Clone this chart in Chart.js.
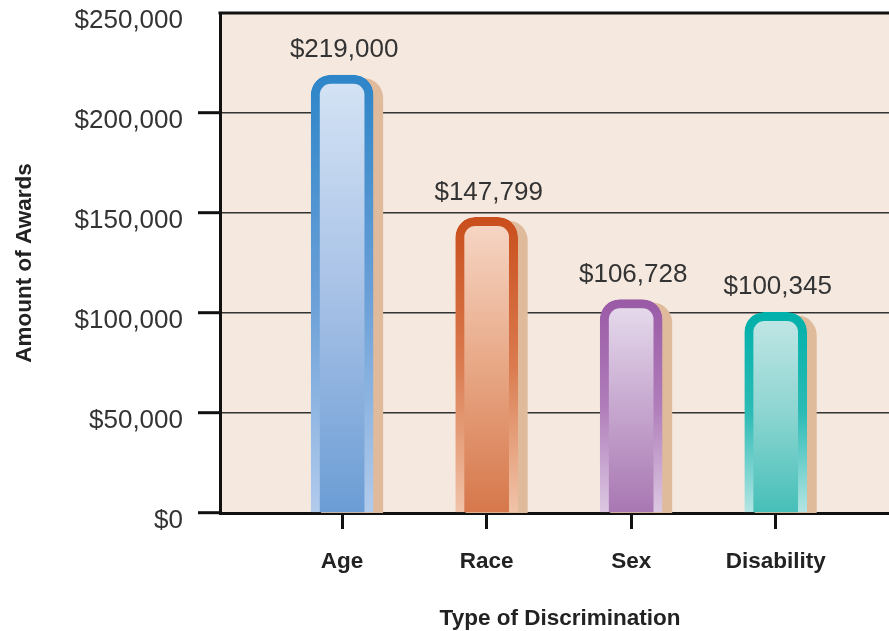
<!DOCTYPE html>
<html>
<head>
<meta charset="utf-8">
<script src="https://cdn.jsdelivr.net/npm/chart.js@4.4.1/dist/chart.umd.min.js"></script>
<style>
  html, body { margin: 0; padding: 0; background: #fff; overflow: hidden; }
  canvas { display: block; }
</style>
</head>
<body>
<canvas id="chart" width="900" height="631"></canvas>
<script>
// data
const categories = ['Age', 'Race', 'Sex', 'Disability'];
const awards = [219000, 147799, 106728, 100345];
const yTicks = [0, 50000, 100000, 150000, 200000, 250000];

// per-bar colours: [top, mid, bottom]
const innerColors = [
  ['#d5e4f5', '#a7c1e6', '#6b9dd5'],
  ['#f6d8c7', '#e8a886', '#d6774b'],
  ['#e7ddee', '#c7a8cf', '#a877b2'],
  ['#c3e7e6', '#8dd5d1', '#45bfb8']
];
const borderColors = [
  ['#2d85c8', '#6a9fd7', '#b2cbec'],
  ['#c94e1c', '#da7b4f', '#f1c4a9'],
  ['#9a5aa6', '#b07dba', '#dcc8e2'],
  ['#00b0aa', '#2cbbb5', '#b5e5e3']
];
const shadowColor = '#dfba9b';
const plotBg = '#f5e8df';

const valueFont = '"Liberation Sans", Arial, sans-serif';
const boldFont = '"Liberation Sans", Arial, sans-serif';

function barGradient(ctx, stops) {
  const chart = ctx.chart;
  if (!chart.chartArea || ctx.type !== 'data') return stops[1];
  const y = chart.scales.y;
  const top = y.getPixelForValue(ctx.raw.y);
  const bottom = y.getPixelForValue(0);
  const g = chart.ctx.createLinearGradient(0, top, 0, bottom);
  g.addColorStop(0, stops[0]);
  g.addColorStop(0.5, stops[1]);
  g.addColorStop(1, stops[2]);
  return g;
}

const plotDecor = {
  id: 'plotDecor',
  beforeDraw(chart) {
    const {ctx, chartArea: a} = chart;
    ctx.save();
    ctx.fillStyle = plotBg;
    ctx.fillRect(a.left, a.top, a.right - a.left, a.bottom - a.top);
    ctx.restore();
  },
  beforeDatasetsDraw(chart) {
    const {ctx, chartArea: a} = chart;
    ctx.save();
    ctx.beginPath();
    ctx.rect(a.left, a.top, a.right - a.left, a.bottom - a.top);
    ctx.clip();
    ctx.fillStyle = shadowColor;
    chart.getDatasetMeta(0).data.forEach(el => {
      const p = el.getProps(['x', 'y', 'base', 'width'], true);
      const left = p.x - p.width / 2 + 10;
      const top = p.y + 3;
      ctx.beginPath();
      ctx.roundRect(left, top, p.width, p.base - top + 2, [20, 20, 0, 0]);
      ctx.fill();
    });
    ctx.restore();
  },
  afterDatasetsDraw(chart) {
    const {ctx, chartArea: a} = chart;
    ctx.save();
    // top frame line
    ctx.strokeStyle = '#111';
    ctx.lineWidth = 3;
    ctx.beginPath();
    ctx.moveTo(a.left - 1.5, a.top);
    ctx.lineTo(a.right, a.top);
    ctx.stroke();
    // value labels
    ctx.fillStyle = '#333';
    ctx.font = '26px ' + valueFont;
    ctx.textAlign = 'center';
    ctx.textBaseline = 'middle';
    chart.getDatasetMeta(0).data.forEach((el, i) => {
      const p = el.getProps(['x', 'y'], true);
      ctx.fillText('$' + awards[i].toLocaleString('en-US'), p.x + 2, p.y - 25);
    });
    ctx.restore();
  }
};

new Chart(document.getElementById('chart'), {
  type: 'bar',
  data: {
    datasets: [{
      data: categories.map((c, i) => ({x: i, y: awards[i]})),
      barThickness: 62,
      borderWidth: 9,
      borderSkipped: 'bottom',
      borderRadius: {topLeft: 20, topRight: 20, bottomLeft: 0, bottomRight: 0},
      backgroundColor: ctx => barGradient(ctx, innerColors[ctx.dataIndex] || innerColors[0]),
      borderColor: ctx => barGradient(ctx, borderColors[ctx.dataIndex] || borderColors[0])
    }]
  },
  options: {
    responsive: false,
    animation: false,
    events: [],
    layout: {padding: {top: 13, right: 0, bottom: 0, left: 0}},
    plugins: {legend: {display: false}, tooltip: {enabled: false}},
    scales: {
      x: {
        type: 'linear',
        min: -0.845,
        max: 3.86,
        offset: false,
        z: 1,
        afterFit: s => { s.height = 118; s.paddingLeft = 0; s.paddingRight = 0; },
        afterBuildTicks: s => { s.ticks = categories.map((c, i) => ({value: i})); },
        border: {display: true, color: '#111', width: 3},
        grid: {display: true, offset: false, drawOnChartArea: false, drawTicks: true, tickLength: 16, tickWidth: 3, tickColor: '#111'},
        ticks: {
          padding: 22,
          color: '#222',
          font: {family: boldFont, size: 22.5, weight: 'bold', lineHeight: 1},
          callback: v => categories[v]
        },
        title: {
          display: true,
          text: 'Type of Discrimination',
          color: '#222',
          padding: {top: 0, bottom: 1},
          font: {family: boldFont, size: 22.5, weight: 'bold', lineHeight: 1}
        }
      },
      y: {
        min: 0,
        max: 250000,
        afterFit: s => { s.width = 220; s.paddingTop = 0; s.paddingBottom = 0; },
        afterBuildTicks: s => { s.ticks = yTicks.map(v => ({value: v})); },
        border: {display: true, color: '#111', width: 3},
        grid: {
          color: '#333',
          lineWidth: 1.4,
          tickLength: 22,
          tickWidth: 3,
          tickColor: ctx => (ctx.tick && ctx.tick.value === 250000) ? 'rgba(0,0,0,0)' : '#111'
        },
        ticks: {
          padding: 15,
          labelOffset: 8,
          color: '#333',
          font: {family: valueFont, size: 26},
          callback: v => '$' + v.toLocaleString('en-US')
        },
        title: {
          display: true,
          text: 'Amount of Awards',
          color: '#222',
          padding: {top: 14, bottom: 0},
          font: {family: boldFont, size: 22.5, weight: 'bold', lineHeight: 1}
        }
      }
    }
  },
  plugins: [plotDecor]
});
</script>
</body>
</html>
